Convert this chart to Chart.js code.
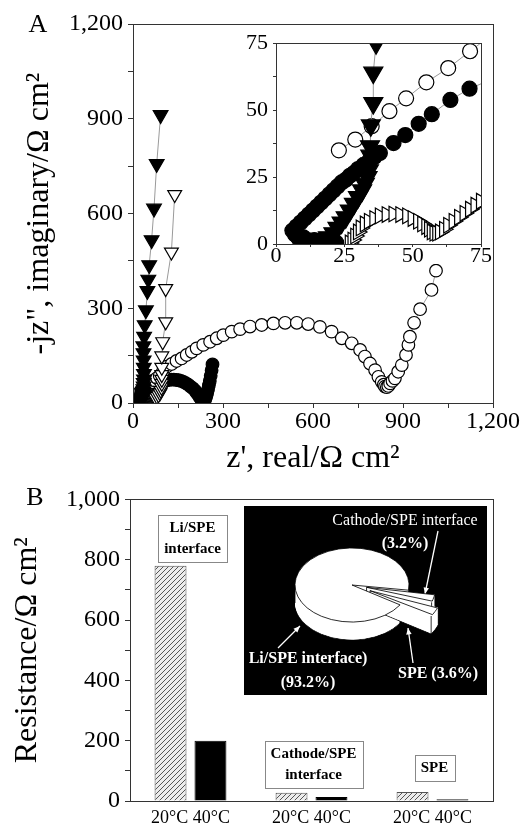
<!DOCTYPE html>
<html>
<head>
<meta charset="utf-8">
<script src="https://cdn.jsdelivr.net/npm/chart.js@4.4.1/dist/chart.umd.min.js"></script>
<style>
  html, body { margin: 0; padding: 0; background: #fff; }
  #fig { position: relative; width: 525px; height: 826px; overflow: hidden; }
  #fig canvas { position: absolute; }
</style>
</head>
<body>
<div id="fig">
  <canvas id="nyquist" width="525" height="480" style="left:0;top:0"></canvas>
  <canvas id="nyquistZoom" width="256" height="239" style="left:240px;top:25px"></canvas>
  <canvas id="resist" width="525" height="346" style="left:0;top:480px"></canvas>
  <canvas id="share" width="240" height="240" style="left:232px;top:465px"></canvas>
</div>
<script>
// Panel A: Nyquist plots, z' (x) and -z'' (y) in ohm cm2
const filledTriX = [7, 9, 11, 13, 15, 17, 19, 21, 22.5, 24, 25.5, 27, 28.5, 30, 31.5, 32.5, 33.5, 34, 34.5, 34.5,
  34.4, 34.7, 35.6, 35.6, 36.6, 36.5, 36, 35.5, 35, 34.5, 37, 39, 43, 48, 51, 54, 62, 70, 79, 92];
const filledTriY = [3, 2, 1.5, 1.5, 1.5, 1.8, 2.5, 4, 6, 8, 10, 12.5, 15, 17.5, 20, 22.5, 25, 27.5, 30, 33,
  36.5, 44.3, 52.6, 64, 75, 92, 112, 135, 158, 180, 210, 247, 294, 355, 391, 437, 516, 616, 757, 912];

const openTriX = [27, 28, 29, 30, 31, 32.5, 34, 36, 38, 40.5, 43, 45.5, 48, 50, 52, 53.5, 55, 56, 57, 58,
  59, 60, 61.5, 63, 65, 67, 69, 71, 73, 75, 80, 85, 90, 93, 95, 96, 96, 96, 96, 96, 99, 109, 109, 128, 139];
const openTriY = [0.4, 1.5, 3, 4.5, 6, 7.5, 8.5, 9.5, 10.5, 11, 11.2, 11, 10.5, 9.5, 8.5, 7.5, 6.5, 5.5, 4.5, 4,
  4, 4.5, 5.5, 7, 8.5, 10, 11.5, 13, 14.5, 16, 21, 26, 32, 40, 50, 62, 75, 90, 113, 149, 194, 257, 362, 478, 660];

const openCircX = [23, 29, 35, 41.5, 47.6, 55, 63, 71, 80, 89, 100, 112, 129, 145, 162, 179, 196, 212, 234, 257,
  279, 301, 329, 357, 390, 429, 468, 507, 546, 584, 623, 662, 696, 729, 757, 773, 790, 807, 818, 829,
  836, 840, 846, 851, 857, 865, 873, 884, 896, 910, 918, 923, 937, 957, 995, 1010];
const openCircY = [35, 39, 44, 49.6, 54.4, 60.4, 65.7, 72, 79, 86, 100, 115, 123.5, 133, 141, 152, 162, 173, 184, 194,
  205, 215, 226, 234, 242, 247, 252, 254, 254, 250, 241, 226, 205, 189, 168, 147, 125, 104, 83, 67,
  58, 52, 50, 54, 62, 70, 78, 99, 120, 152, 184, 210, 254, 297, 358, 419];

const filledCircX = [22, 18, 14, 10, 7, 6, 7.5, 9, 10.5, 12, 13.5, 15, 16.5, 18, 19.5, 21, 22.5, 24, 25.5, 27,
  28.5, 30, 32, 34, 36, 38, 43, 47.3, 52.2, 57, 63.8, 70.8, 80, 88, 96, 104, 112, 120, 128, 136,
  144, 152, 160, 168, 176, 184, 192, 200, 207, 213, 219, 224, 229, 234, 238, 241, 244, 247, 250, 253,
  256, 259, 262, 265];
const filledCircY = [0.5, 1, 1.5, 2.5, 3.5, 5, 6.5, 8, 9.5, 11, 12.5, 14, 15.5, 17, 18.5, 20, 21.5, 23, 24, 25.5,
  26.5, 28, 29.5, 31, 32.5, 34, 37.7, 40.7, 44.9, 48.5, 53.8, 58, 62, 65, 68, 70, 72, 73, 74, 74,
  73, 72, 70, 67, 63, 58, 52, 46, 39, 31, 23, 16, 10, 6, 7, 12, 20, 30, 42, 56,
  70, 86, 104, 122];

// Panel B: resistances (ohm cm2) of each component at 20 and 40 C
const barGroups = [['Li/SPE', 'interface'], ['Cathode/SPE', 'interface'], ['SPE']];
const groupTickLabel = '20°C 40°C';
const r20 = [780, 27, 30];
const r40 = [200, 13, 6];

// pie inset: share of the 20 C total
const pieNames = ['Cathode/SPE interface', 'SPE', 'Li/SPE interface'];
const pieShares = [3.2, 3.6, 93.2];

const FONT = "'Liberation Serif', 'Times New Roman', serif";
const INK = '#333';

function pts(xs, ys) {
  return xs.map((x, i) => ({ x: x, y: ys[i] }));
}

function nyquistSets(inset) {
  const base = { showLine: true, borderColor: '#9a9a9a', borderWidth: 1, tension: 0,
    pointBorderColor: '#000', pointBorderWidth: 1.2 };
  return [
    { ...base, data: pts(filledTriX, filledTriY), pointStyle: 'triangle', pointRotation: 180,
      pointRadius: inset ? 11 : 8.5, pointBackgroundColor: '#000' },
    { ...base, data: pts(openTriX, openTriY), pointStyle: 'triangle', pointRotation: inset ? 90 : 180,
      pointRadius: inset ? 9 : 8, pointBackgroundColor: '#fff' },
    { ...base, data: pts(openCircX, openCircY), pointStyle: 'circle',
      pointRadius: inset ? 7.5 : 6.3, pointBackgroundColor: '#fff' },
    { ...base, data: pts(filledCircX, filledCircY), pointStyle: 'circle',
      pointRadius: inset ? 7.5 : 6.3, pointBackgroundColor: '#000' },
  ];
}

const fmt = v => Number(v).toLocaleString('en-US');

// linear axis with labelled major ticks and unlabelled minor ones
function valueAxis(min, max, step, major, size, tickPad, fit) {
  return {
    type: 'linear', min: min, max: max, afterFit: fit,
    ticks: { stepSize: step, autoSkip: false, maxRotation: 0, padding: tickPad, color: '#000',
      font: { family: FONT, size: size },
      callback: v => (Math.abs(v / major - Math.round(v / major)) < 1e-6 ? fmt(v) : '') },
    grid: { drawOnChartArea: false, tickLength: 5, tickColor: INK },
    border: { color: INK, width: 1 }
  };
}

// box round the plot area and the panel letter
const frame = {
  id: 'frame',
  afterDraw(chart, args, opts) {
    const a = chart.chartArea, ctx = chart.ctx;
    ctx.save();
    ctx.strokeStyle = INK;
    ctx.lineWidth = 1;
    ctx.strokeRect(Math.round(a.left) + 0.5, Math.round(a.top) + 0.5,
      Math.round(a.right - a.left), Math.round(a.bottom - a.top));
    if (opts.letter) {
      ctx.fillStyle = '#000';
      ctx.font = '26px ' + FONT;
      ctx.textAlign = 'center';
      ctx.textBaseline = 'middle';
      ctx.fillText(opts.letter, a.left - 95, a.top + opts.letterDy);
    }
    ctx.restore();
  }
};

const paper = {
  id: 'paper',
  beforeDraw(chart, args, opts) {
    const ctx = chart.ctx;
    ctx.save();
    ctx.fillStyle = '#fff';
    ctx.fillRect(0, 0, opts.width, chart.height);
    ctx.restore();
  }
};

const common = { responsive: false, animation: false, devicePixelRatio: 1, events: [] };

new Chart(document.getElementById('nyquist'), {
  type: 'scatter',
  data: { datasets: nyquistSets(false) },
  options: {
    ...common,
    layout: { autoPadding: false, padding: { left: 0, right: 32, top: 24, bottom: 0 } },
    plugins: { legend: { display: false }, tooltip: { enabled: false }, frame: { letter: 'A', letterDy: 1 } },
    scales: {
      x: { ...valueAxis(0, 1200, 150, 300, 24, -1, s => { s.height = 77; }),
        title: { display: true, text: "z', real/Ω cm²", color: '#000',
          font: { family: FONT, size: 32 }, padding: { top: 0, bottom: 2 } } },
      y: { ...valueAxis(0, 1200, 150, 300, 24, 5, s => { s.width = 133; }),
        title: { display: true, text: '-jz", imaginary/Ω cm²', color: '#000',
          font: { family: FONT, size: 32 }, padding: { top: 20, bottom: 0 } } }
    }
  },
  plugins: [frame]
});

new Chart(document.getElementById('nyquistZoom'), {
  type: 'scatter',
  data: { datasets: nyquistSets(true) },
  options: {
    ...common,
    layout: { autoPadding: false, padding: { left: 0, right: 15, top: 9, bottom: 0 } },
    plugins: { legend: { display: false }, tooltip: { enabled: false }, frame: {}, paper: { width: 252 } },
    scales: {
      x: { ...valueAxis(0, 75, 12.5, 25, 22, -4, s => { s.height = 20; }),
        grid: { drawOnChartArea: false, tickLength: 3, tickColor: INK } },
      y: { ...valueAxis(0, 75, 12.5, 25, 22, 5, s => { s.width = 36; }),
        grid: { drawOnChartArea: false, tickLength: 3, tickColor: INK } }
    }
  },
  plugins: [paper, frame]
});

// hatched fill for the 20 C bars
const resistCanvas = document.getElementById('resist');
const tile = document.createElement('canvas');
tile.width = 5; tile.height = 5;
const tg = tile.getContext('2d');
tg.fillStyle = '#ececec';
tg.fillRect(0, 0, 5, 5);
tg.strokeStyle = '#444';
tg.lineWidth = 0.9;
tg.beginPath();
tg.moveTo(0, 5); tg.lineTo(5, 0);
tg.moveTo(-2.5, 2.5); tg.lineTo(2.5, -2.5);
tg.moveTo(2.5, 7.5); tg.lineTo(7.5, 2.5);
tg.stroke();
const hatch = resistCanvas.getContext('2d').createPattern(tile, 'repeat');

// white label boxes above each pair of bars
const boxGap = [4, 5, 11];
const groupBoxes = {
  id: 'groupBoxes',
  afterDatasetsDraw(chart) {
    const ctx = chart.ctx, xs = chart.scales.x, ys = chart.scales.y;
    ctx.save();
    ctx.font = 'bold 15px ' + FONT;
    ctx.textAlign = 'center';
    ctx.textBaseline = 'middle';
    barGroups.forEach((lines, i) => {
      const w = Math.max(...lines.map(t => ctx.measureText(t).width)) + 12;
      const h = lines.length * 21 + 5;
      const cx = xs.getPixelForValue(i) + 2;
      const bottom = Math.round(ys.getPixelForValue(Math.max(r20[i], r40[i]))) - boxGap[i];
      const left = Math.round(cx - w / 2);
      ctx.fillStyle = '#fff';
      ctx.strokeStyle = '#888';
      ctx.lineWidth = 1;
      ctx.fillRect(left, bottom - h, Math.round(w), h);
      ctx.strokeRect(left + 0.5, bottom - h + 0.5, Math.round(w), h);
      ctx.fillStyle = '#000';
      lines.forEach((t, k) => ctx.fillText(t, cx, bottom - h + 13 + k * 21));
    });
    ctx.restore();
  }
};

function arrow(ctx, x1, y1, x2, y2) {
  const ang = Math.atan2(y2 - y1, x2 - x1);
  ctx.beginPath();
  ctx.moveTo(x1, y1);
  ctx.lineTo(x2, y2);
  ctx.stroke();
  ctx.beginPath();
  ctx.moveTo(x2, y2);
  ctx.lineTo(x2 - 7 * Math.cos(ang - 0.4), y2 - 7 * Math.sin(ang - 0.4));
  ctx.lineTo(x2 - 7 * Math.cos(ang + 0.4), y2 - 7 * Math.sin(ang + 0.4));
  ctx.closePath();
  ctx.fill();
}

// black panel behind the pie, with its labels and arrows
const shareBox = {
  id: 'shareBox',
  afterDraw(chart) {
    const a = chart.chartArea, ctx = chart.ctx;
    const bx = Math.round(a.left + 114), by = Math.round(a.top + 7);
    const bw = Math.round(a.right - 6) - bx, bh = 189;
    ctx.save();
    ctx.fillStyle = '#000';
    ctx.fillRect(bx, by, bw, bh);
    ctx.fillStyle = '#fff';
    ctx.strokeStyle = '#fff';
    ctx.lineWidth = 1.3;
    ctx.textAlign = 'center';
    ctx.textBaseline = 'middle';
    ctx.font = '16px ' + FONT;
    ctx.fillText(pieNames[0], bx + 161, by + 15);
    ctx.font = 'bold 16px ' + FONT;
    ctx.fillText('(' + pieShares[0].toFixed(1) + '%)', bx + 161, by + 38);
    ctx.fillText(pieNames[2] + ')', bx + 64, by + 153);
    ctx.fillText('(' + pieShares[2].toFixed(1) + '%)', bx + 64, by + 177);
    ctx.fillText(pieNames[1] + ' (' + pieShares[1].toFixed(1) + '%)', bx + 194, by + 168);
    arrow(ctx, bx + 194, by + 25, bx + 181, by + 88);
    arrow(ctx, bx + 169, by + 157, bx + 164, by + 122);
    arrow(ctx, bx + 34, by + 142, bx + 56, by + 120);
    ctx.restore();
  }
};

new Chart(resistCanvas, {
  type: 'bar',
  data: {
    labels: barGroups.map(() => groupTickLabel),
    datasets: [
      { label: '20°C', data: r20, backgroundColor: hatch, borderColor: '#555', borderWidth: 1,
        categoryPercentage: 0.66, barPercentage: 0.8 },
      { label: '40°C', data: r40, backgroundColor: '#000', borderColor: '#000', borderWidth: 1,
        categoryPercentage: 0.66, barPercentage: 0.8 }
    ]
  },
  options: {
    ...common,
    layout: { autoPadding: false, padding: { left: 0, right: 32, top: 13, bottom: 0 } },
    plugins: { legend: { display: false }, tooltip: { enabled: false }, frame: { letter: 'B', letterDy: -1 } },
    scales: {
      x: { type: 'category', afterFit: s => { s.height = 25; },
        ticks: { padding: 6, maxRotation: 0, autoSkip: false, color: '#000', font: { family: FONT, size: 18 } },
        grid: { display: false, drawTicks: false },
        border: { color: INK, width: 1 } },
      y: { ...valueAxis(0, 1000, 100, 200, 24, 5, s => { s.width = 130; }),
        title: { display: true, text: 'Resistance/Ω cm²', color: '#000',
          font: { family: FONT, size: 32 }, padding: { top: 8, bottom: 0 } } }
    }
  },
  plugins: [groupBoxes, frame, shareBox]
});

// pie drawn flat by Chart.js, squashed and given a side wall here
const squash = 0.65, pieDepth = 18;

function slicePath(ctx, el, dy) {
  const p = el.getProps(['x', 'y', 'startAngle', 'endAngle', 'outerRadius'], true);
  const off = (el.options.offset || 0) / 4;
  const mid = (p.startAngle + p.endAngle) / 2;
  const fix = 1 - Math.sin(Math.min(Math.PI, p.endAngle - p.startAngle));
  const cx = p.x + Math.cos(mid) * off, cy = p.y + Math.sin(mid) * off + dy;
  const r = p.outerRadius + off * fix;
  ctx.beginPath();
  ctx.moveTo(cx, cy);
  ctx.arc(cx, cy, r, p.startAngle, p.endAngle);
  ctx.closePath();
  return { cx: cx, cy: cy, r: r, s: p.startAngle, e: p.endAngle, off: off };
}

const pie3d = {
  id: 'pie3d',
  beforeDatasetsDraw(chart) {
    const ctx = chart.ctx;
    const arcs = chart.getDatasetMeta(0).data;
    const cy0 = (chart.chartArea.top + chart.chartArea.bottom) / 2;
    const D = pieDepth / squash;
    ctx.save();
    ctx.translate(0, cy0);
    ctx.scale(1, squash);
    ctx.translate(0, -cy0);
    [2, 0, 1].forEach(i => {
      const el = arcs[i];
      ctx.fillStyle = '#fff';
      ctx.strokeStyle = '#000';
      ctx.lineWidth = 1;
      slicePath(ctx, el, D);
      ctx.fill();
      ctx.stroke();
      for (let k = D - 1; k >= 1; k -= 1) {
        slicePath(ctx, el, k);
        ctx.fill();
      }
      const g = slicePath(ctx, el, 0);
      const angs = [g.s, g.e];
      [Math.PI, 2 * Math.PI].forEach(t => { if (t > g.s && t < g.e) angs.push(t); });
      ctx.beginPath();
      angs.forEach(t => {
        if (Math.sin(t) > -0.05) {
          const px = g.cx + Math.cos(t) * g.r, py = g.cy + Math.sin(t) * g.r;
          ctx.moveTo(px, py);
          ctx.lineTo(px, py + D);
        }
      });
      if (g.off > 0) {
        ctx.moveTo(g.cx, g.cy);
        ctx.lineTo(g.cx, g.cy + D);
      }
      ctx.stroke();
    });
  },
  afterDatasetsDraw(chart) {
    chart.ctx.restore();
  }
};

new Chart(document.getElementById('share'), {
  type: 'pie',
  data: {
    labels: pieNames,
    datasets: [{ data: pieShares, backgroundColor: '#fff', borderColor: '#000', borderWidth: 1,
      offset: [60, 80, 0], rotation: 98, radius: 57, clip: false }]
  },
  options: {
    ...common,
    layout: { padding: 0 },
    plugins: { legend: { display: false }, tooltip: { enabled: false } }
  },
  plugins: [pie3d]
});
</script>
</body>
</html>
